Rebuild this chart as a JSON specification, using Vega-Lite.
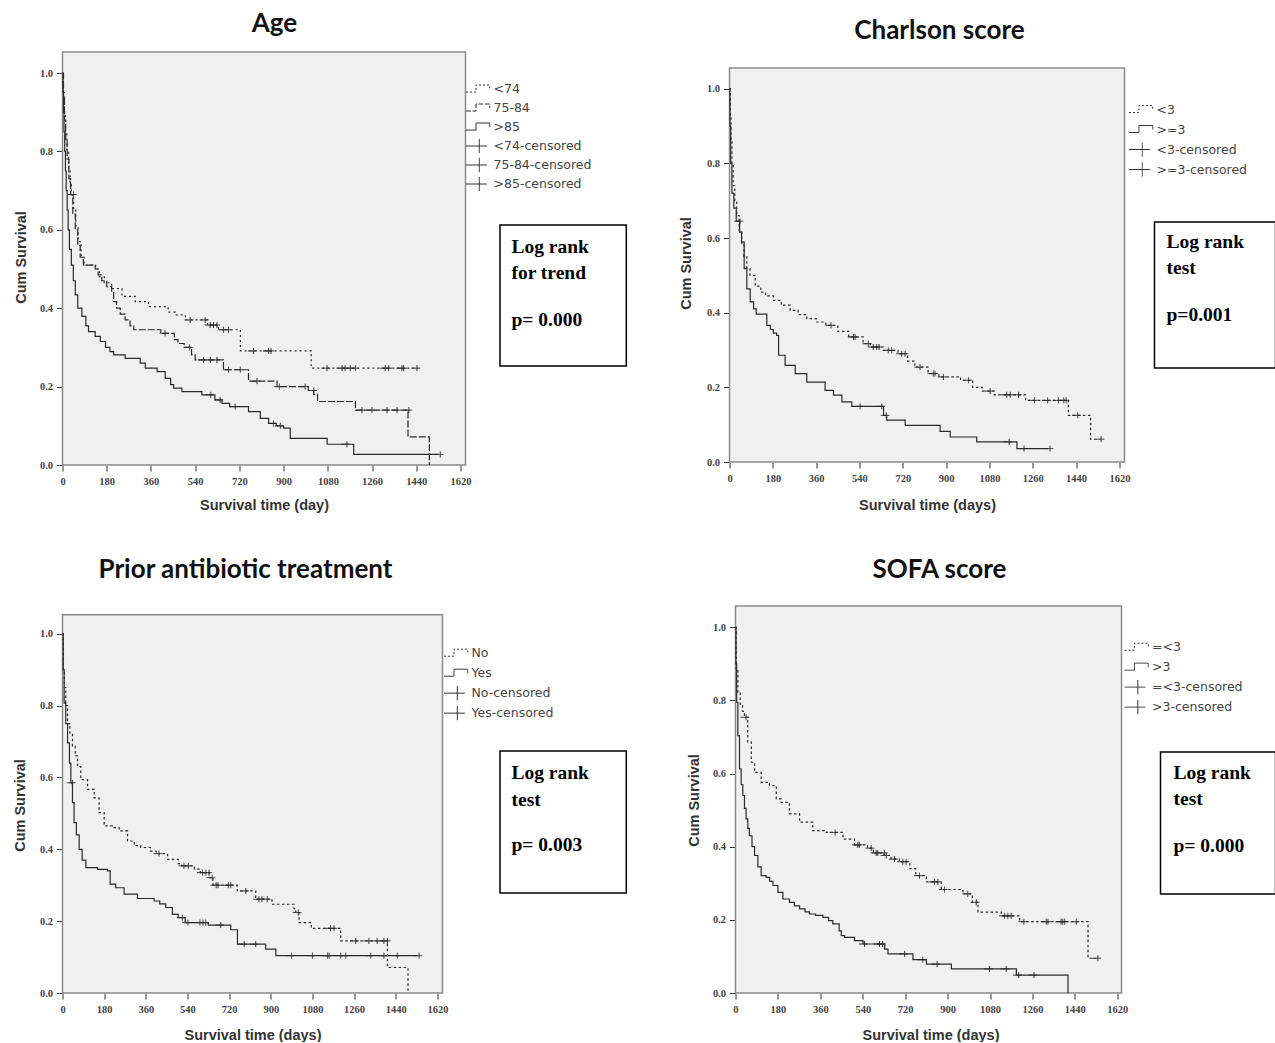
{
"$schema": "https://vega.github.io/schema/vega-lite/v6.json",
"background": "white",
"padding": {"left": 11.5, "top": 11, "right": 0, "bottom": 0},
"autosize": {"type": "pad"},
"config": {
  "view": {"stroke": null},
  "axis": {"grid": false, "domain": false, "tickColor": "#333", "tickWidth": 1, "labelFont": "Liberation Serif", "labelFontSize": 10.5, "labelFontWeight": "bold", "labelColor": "#444", "titleFont": "Liberation Sans", "titleFontSize": 14.5, "titleFontWeight": "bold", "titleColor": "#333", "labelOverlap": false, "labelFlush": false},
  "title": {"font": "Lato", "fontSize": 26, "fontWeight": "bold", "color": "#111", "anchor": "middle", "frame": "group"},
  "legend": {"labelFont": "DejaVu Sans", "labelFontSize": 12.5, "labelColor": "#444", "symbolSize": 361, "labelOffset": 8, "padding": 0, "title": null, "orient": "none", "symbolStrokeColor": "#333", "symbolFillColor": "transparent", "symbolStrokeWidth": 1}
},
"datasets": {
"tests": [
 {"panel": "Age", "test": "Log rank\nfor trend", "p": "p= 0.000"},
 {"panel": "Charlson", "test": "Log rank\ntest", "p": "p=0.001"},
 {"panel": "Prior", "test": "Log rank\ntest", "p": "p= 0.003"},
 {"panel": "SOFA", "test": "Log rank\ntest", "p": "p= 0.000"}
],
"km": [
 {"panel":"Age","group":"<74","t":0,"s":1},{"panel":"Age","group":"<74","t":3,"s":0.95},{"panel":"Age","group":"<74","t":7,"s":0.9},{"panel":"Age","group":"<74","t":12,"s":0.85},{"panel":"Age","group":"<74","t":18,"s":0.8},{"panel":"Age","group":"<74","t":25,"s":0.75},{"panel":"Age","group":"<74","t":31,"s":0.72},{"panel":"Age","group":"<74","t":36,"s":0.69},{"panel":"Age","group":"<74","t":45,"s":0.65},{"panel":"Age","group":"<74","t":54,"s":0.61},{"panel":"Age","group":"<74","t":64,"s":0.57},{"panel":"Age","group":"<74","t":76,"s":0.53},{"panel":"Age","group":"<74","t":88,"s":0.51},{"panel":"Age","group":"<74","t":135,"s":0.5},{"panel":"Age","group":"<74","t":150,"s":0.48},{"panel":"Age","group":"<74","t":170,"s":0.465},{"panel":"Age","group":"<74","t":200,"s":0.45},{"panel":"Age","group":"<74","t":242,"s":0.43},{"panel":"Age","group":"<74","t":296,"s":0.417},{"panel":"Age","group":"<74","t":350,"s":0.404},{"panel":"Age","group":"<74","t":430,"s":0.39},{"panel":"Age","group":"<74","t":459,"s":0.383},{"panel":"Age","group":"<74","t":500,"s":0.37},{"panel":"Age","group":"<74","t":590,"s":0.357},{"panel":"Age","group":"<74","t":635,"s":0.345},{"panel":"Age","group":"<74","t":724,"s":0.291},{"panel":"Age","group":"<74","t":1012,"s":0.247},{"panel":"Age","group":"<74","t":1436,"s":0.247},
 {"panel":"Age","group":"75-84","t":0,"s":1},{"panel":"Age","group":"75-84","t":4,"s":0.94},{"panel":"Age","group":"75-84","t":8,"s":0.88},{"panel":"Age","group":"75-84","t":13,"s":0.83},{"panel":"Age","group":"75-84","t":19,"s":0.78},{"panel":"Age","group":"75-84","t":26,"s":0.73},{"panel":"Age","group":"75-84","t":33,"s":0.69},{"panel":"Age","group":"75-84","t":42,"s":0.64},{"panel":"Age","group":"75-84","t":52,"s":0.6},{"panel":"Age","group":"75-84","t":62,"s":0.56},{"panel":"Age","group":"75-84","t":72,"s":0.53},{"panel":"Age","group":"75-84","t":85,"s":0.51},{"panel":"Age","group":"75-84","t":133,"s":0.5},{"panel":"Age","group":"75-84","t":145,"s":0.485},{"panel":"Age","group":"75-84","t":160,"s":0.47},{"panel":"Age","group":"75-84","t":180,"s":0.455},{"panel":"Age","group":"75-84","t":200,"s":0.44},{"panel":"Age","group":"75-84","t":208,"s":0.417},{"panel":"Age","group":"75-84","t":220,"s":0.4},{"panel":"Age","group":"75-84","t":235,"s":0.385},{"panel":"Age","group":"75-84","t":255,"s":0.37},{"panel":"Age","group":"75-84","t":275,"s":0.355},{"panel":"Age","group":"75-84","t":290,"s":0.345},{"panel":"Age","group":"75-84","t":400,"s":0.336},{"panel":"Age","group":"75-84","t":455,"s":0.32},{"panel":"Age","group":"75-84","t":470,"s":0.31},{"panel":"Age","group":"75-84","t":495,"s":0.3},{"panel":"Age","group":"75-84","t":525,"s":0.281},{"panel":"Age","group":"75-84","t":540,"s":0.268},{"panel":"Age","group":"75-84","t":655,"s":0.243},{"panel":"Age","group":"75-84","t":757,"s":0.214},{"panel":"Age","group":"75-84","t":873,"s":0.2},{"panel":"Age","group":"75-84","t":1000,"s":0.19},{"panel":"Age","group":"75-84","t":1022,"s":0.18},{"panel":"Age","group":"75-84","t":1038,"s":0.162},{"panel":"Age","group":"75-84","t":1192,"s":0.14},{"panel":"Age","group":"75-84","t":1406,"s":0.072},{"panel":"Age","group":"75-84","t":1493,"s":0},
 {"panel":"Age","group":">85","t":0,"s":1},{"panel":"Age","group":">85","t":2,"s":0.95},{"panel":"Age","group":">85","t":4,"s":0.9},{"panel":"Age","group":">85","t":6,"s":0.85},{"panel":"Age","group":">85","t":9,"s":0.8},{"panel":"Age","group":">85","t":12,"s":0.75},{"panel":"Age","group":">85","t":15,"s":0.7},{"panel":"Age","group":">85","t":19,"s":0.65},{"panel":"Age","group":">85","t":23,"s":0.6},{"panel":"Age","group":">85","t":28,"s":0.55},{"panel":"Age","group":">85","t":36,"s":0.51},{"panel":"Age","group":">85","t":44,"s":0.47},{"panel":"Age","group":">85","t":52,"s":0.434},{"panel":"Age","group":">85","t":62,"s":0.4},{"panel":"Age","group":">85","t":79,"s":0.379},{"panel":"Age","group":">85","t":95,"s":0.355},{"panel":"Age","group":">85","t":106,"s":0.34},{"panel":"Age","group":">85","t":133,"s":0.328},{"panel":"Age","group":">85","t":154,"s":0.315},{"panel":"Age","group":">85","t":175,"s":0.3},{"panel":"Age","group":">85","t":193,"s":0.289},{"panel":"Age","group":">85","t":208,"s":0.281},{"panel":"Age","group":">85","t":255,"s":0.272},{"panel":"Age","group":">85","t":316,"s":0.26},{"panel":"Age","group":">85","t":337,"s":0.247},{"panel":"Age","group":">85","t":385,"s":0.238},{"panel":"Age","group":">85","t":418,"s":0.221},{"panel":"Age","group":">85","t":440,"s":0.205},{"panel":"Age","group":">85","t":452,"s":0.196},{"panel":"Age","group":">85","t":486,"s":0.187},{"panel":"Age","group":">85","t":567,"s":0.179},{"panel":"Age","group":">85","t":620,"s":0.166},{"panel":"Age","group":">85","t":649,"s":0.157},{"panel":"Age","group":">85","t":680,"s":0.149},{"panel":"Age","group":">85","t":757,"s":0.136},{"panel":"Age","group":">85","t":805,"s":0.119},{"panel":"Age","group":">85","t":839,"s":0.106},{"panel":"Age","group":">85","t":870,"s":0.1},{"panel":"Age","group":">85","t":900,"s":0.094},{"panel":"Age","group":">85","t":927,"s":0.068},{"panel":"Age","group":">85","t":1077,"s":0.053},{"panel":"Age","group":">85","t":1185,"s":0.027},{"panel":"Age","group":">85","t":1531,"s":0.027},
 {"panel":"Charlson","group":"<3","t":0,"s":1},{"panel":"Charlson","group":"<3","t":3,"s":0.93},{"panel":"Charlson","group":"<3","t":6,"s":0.86},{"panel":"Charlson","group":"<3","t":10,"s":0.8},{"panel":"Charlson","group":"<3","t":15,"s":0.74},{"panel":"Charlson","group":"<3","t":22,"s":0.7},{"panel":"Charlson","group":"<3","t":30,"s":0.66},{"panel":"Charlson","group":"<3","t":40,"s":0.62},{"panel":"Charlson","group":"<3","t":51,"s":0.585},{"panel":"Charlson","group":"<3","t":60,"s":0.55},{"panel":"Charlson","group":"<3","t":72,"s":0.518},{"panel":"Charlson","group":"<3","t":85,"s":0.5},{"panel":"Charlson","group":"<3","t":107,"s":0.471},{"panel":"Charlson","group":"<3","t":130,"s":0.455},{"panel":"Charlson","group":"<3","t":150,"s":0.445},{"panel":"Charlson","group":"<3","t":183,"s":0.433},{"panel":"Charlson","group":"<3","t":215,"s":0.42},{"panel":"Charlson","group":"<3","t":252,"s":0.406},{"panel":"Charlson","group":"<3","t":285,"s":0.395},{"panel":"Charlson","group":"<3","t":321,"s":0.384},{"panel":"Charlson","group":"<3","t":360,"s":0.375},{"panel":"Charlson","group":"<3","t":400,"s":0.366},{"panel":"Charlson","group":"<3","t":450,"s":0.35},{"panel":"Charlson","group":"<3","t":495,"s":0.335},{"panel":"Charlson","group":"<3","t":555,"s":0.317},{"panel":"Charlson","group":"<3","t":585,"s":0.308},{"panel":"Charlson","group":"<3","t":640,"s":0.299},{"panel":"Charlson","group":"<3","t":700,"s":0.29},{"panel":"Charlson","group":"<3","t":740,"s":0.27},{"panel":"Charlson","group":"<3","t":770,"s":0.254},{"panel":"Charlson","group":"<3","t":825,"s":0.237},{"panel":"Charlson","group":"<3","t":870,"s":0.228},{"panel":"Charlson","group":"<3","t":960,"s":0.219},{"panel":"Charlson","group":"<3","t":1010,"s":0.2},{"panel":"Charlson","group":"<3","t":1050,"s":0.19},{"panel":"Charlson","group":"<3","t":1100,"s":0.18},{"panel":"Charlson","group":"<3","t":1230,"s":0.165},{"panel":"Charlson","group":"<3","t":1408,"s":0.125},{"panel":"Charlson","group":"<3","t":1500,"s":0.061},{"panel":"Charlson","group":"<3","t":1537,"s":0.061},
 {"panel":"Charlson","group":">=3","t":0,"s":1},{"panel":"Charlson","group":">=3","t":2,"s":0.9},{"panel":"Charlson","group":">=3","t":5,"s":0.8},{"panel":"Charlson","group":">=3","t":10,"s":0.72},{"panel":"Charlson","group":">=3","t":18,"s":0.68},{"panel":"Charlson","group":">=3","t":28,"s":0.645},{"panel":"Charlson","group":">=3","t":42,"s":0.616},{"panel":"Charlson","group":">=3","t":50,"s":0.589},{"panel":"Charlson","group":">=3","t":61,"s":0.518},{"panel":"Charlson","group":">=3","t":72,"s":0.464},{"panel":"Charlson","group":">=3","t":86,"s":0.429},{"panel":"Charlson","group":">=3","t":100,"s":0.41},{"panel":"Charlson","group":">=3","t":111,"s":0.396},{"panel":"Charlson","group":">=3","t":155,"s":0.366},{"panel":"Charlson","group":">=3","t":170,"s":0.355},{"panel":"Charlson","group":">=3","t":182,"s":0.345},{"panel":"Charlson","group":">=3","t":196,"s":0.339},{"panel":"Charlson","group":">=3","t":204,"s":0.286},{"panel":"Charlson","group":">=3","t":231,"s":0.259},{"panel":"Charlson","group":">=3","t":273,"s":0.237},{"panel":"Charlson","group":">=3","t":321,"s":0.214},{"panel":"Charlson","group":">=3","t":397,"s":0.192},{"panel":"Charlson","group":">=3","t":432,"s":0.179},{"panel":"Charlson","group":">=3","t":467,"s":0.161},{"panel":"Charlson","group":">=3","t":508,"s":0.149},{"panel":"Charlson","group":">=3","t":640,"s":0.125},{"panel":"Charlson","group":">=3","t":653,"s":0.112},{"panel":"Charlson","group":">=3","t":730,"s":0.098},{"panel":"Charlson","group":">=3","t":875,"s":0.082},{"panel":"Charlson","group":">=3","t":917,"s":0.067},{"panel":"Charlson","group":">=3","t":1027,"s":0.054},{"panel":"Charlson","group":">=3","t":1194,"s":0.036},{"panel":"Charlson","group":">=3","t":1325,"s":0.036},
 {"panel":"Prior","group":"No","t":0,"s":1},{"panel":"Prior","group":"No","t":4,"s":0.9},{"panel":"Prior","group":"No","t":8,"s":0.85},{"panel":"Prior","group":"No","t":14,"s":0.8},{"panel":"Prior","group":"No","t":22,"s":0.75},{"panel":"Prior","group":"No","t":32,"s":0.72},{"panel":"Prior","group":"No","t":43,"s":0.687},{"panel":"Prior","group":"No","t":55,"s":0.66},{"panel":"Prior","group":"No","t":65,"s":0.63},{"panel":"Prior","group":"No","t":79,"s":0.594},{"panel":"Prior","group":"No","t":108,"s":0.567},{"panel":"Prior","group":"No","t":137,"s":0.543},{"panel":"Prior","group":"No","t":158,"s":0.502},{"panel":"Prior","group":"No","t":180,"s":0.465},{"panel":"Prior","group":"No","t":215,"s":0.46},{"panel":"Prior","group":"No","t":245,"s":0.451},{"panel":"Prior","group":"No","t":281,"s":0.423},{"panel":"Prior","group":"No","t":310,"s":0.41},{"panel":"Prior","group":"No","t":338,"s":0.405},{"panel":"Prior","group":"No","t":380,"s":0.395},{"panel":"Prior","group":"No","t":405,"s":0.388},{"panel":"Prior","group":"No","t":454,"s":0.372},{"panel":"Prior","group":"No","t":500,"s":0.36},{"panel":"Prior","group":"No","t":515,"s":0.354},{"panel":"Prior","group":"No","t":570,"s":0.345},{"panel":"Prior","group":"No","t":595,"s":0.335},{"panel":"Prior","group":"No","t":635,"s":0.321},{"panel":"Prior","group":"No","t":650,"s":0.3},{"panel":"Prior","group":"No","t":755,"s":0.284},{"panel":"Prior","group":"No","t":835,"s":0.261},{"panel":"Prior","group":"No","t":905,"s":0.247},{"panel":"Prior","group":"No","t":1000,"s":0.235},{"panel":"Prior","group":"No","t":1008,"s":0.224},{"panel":"Prior","group":"No","t":1022,"s":0.196},{"panel":"Prior","group":"No","t":1075,"s":0.18},{"panel":"Prior","group":"No","t":1202,"s":0.145},{"panel":"Prior","group":"No","t":1404,"s":0.071},{"panel":"Prior","group":"No","t":1493,"s":0},
 {"panel":"Prior","group":"Yes","t":0,"s":1},{"panel":"Prior","group":"Yes","t":3,"s":0.9},{"panel":"Prior","group":"Yes","t":7,"s":0.807},{"panel":"Prior","group":"Yes","t":14,"s":0.75},{"panel":"Prior","group":"Yes","t":22,"s":0.696},{"panel":"Prior","group":"Yes","t":30,"s":0.64},{"panel":"Prior","group":"Yes","t":36,"s":0.585},{"panel":"Prior","group":"Yes","t":43,"s":0.53},{"panel":"Prior","group":"Yes","t":50,"s":0.474},{"panel":"Prior","group":"Yes","t":60,"s":0.44},{"panel":"Prior","group":"Yes","t":72,"s":0.4},{"panel":"Prior","group":"Yes","t":85,"s":0.37},{"panel":"Prior","group":"Yes","t":101,"s":0.349},{"panel":"Prior","group":"Yes","t":151,"s":0.344},{"panel":"Prior","group":"Yes","t":194,"s":0.34},{"panel":"Prior","group":"Yes","t":206,"s":0.303},{"panel":"Prior","group":"Yes","t":230,"s":0.293},{"panel":"Prior","group":"Yes","t":266,"s":0.275},{"panel":"Prior","group":"Yes","t":324,"s":0.263},{"panel":"Prior","group":"Yes","t":396,"s":0.256},{"panel":"Prior","group":"Yes","t":420,"s":0.248},{"panel":"Prior","group":"Yes","t":446,"s":0.238},{"panel":"Prior","group":"Yes","t":475,"s":0.219},{"panel":"Prior","group":"Yes","t":500,"s":0.21},{"panel":"Prior","group":"Yes","t":530,"s":0.196},{"panel":"Prior","group":"Yes","t":630,"s":0.189},{"panel":"Prior","group":"Yes","t":727,"s":0.176},{"panel":"Prior","group":"Yes","t":756,"s":0.136},{"panel":"Prior","group":"Yes","t":878,"s":0.122},{"panel":"Prior","group":"Yes","t":922,"s":0.104},{"panel":"Prior","group":"Yes","t":1534,"s":0.104},
 {"panel":"SOFA","group":"=<3","t":0,"s":1},{"panel":"SOFA","group":"=<3","t":3,"s":0.886},{"panel":"SOFA","group":"=<3","t":10,"s":0.822},{"panel":"SOFA","group":"=<3","t":20,"s":0.79},{"panel":"SOFA","group":"=<3","t":30,"s":0.77},{"panel":"SOFA","group":"=<3","t":38,"s":0.754},{"panel":"SOFA","group":"=<3","t":52,"s":0.686},{"panel":"SOFA","group":"=<3","t":67,"s":0.631},{"panel":"SOFA","group":"=<3","t":81,"s":0.603},{"panel":"SOFA","group":"=<3","t":109,"s":0.576},{"panel":"SOFA","group":"=<3","t":144,"s":0.567},{"panel":"SOFA","group":"=<3","t":173,"s":0.531},{"panel":"SOFA","group":"=<3","t":194,"s":0.521},{"panel":"SOFA","group":"=<3","t":229,"s":0.49},{"panel":"SOFA","group":"=<3","t":272,"s":0.467},{"panel":"SOFA","group":"=<3","t":328,"s":0.444},{"panel":"SOFA","group":"=<3","t":385,"s":0.439},{"panel":"SOFA","group":"=<3","t":456,"s":0.421},{"panel":"SOFA","group":"=<3","t":505,"s":0.405},{"panel":"SOFA","group":"=<3","t":560,"s":0.396},{"panel":"SOFA","group":"=<3","t":585,"s":0.383},{"panel":"SOFA","group":"=<3","t":630,"s":0.376},{"panel":"SOFA","group":"=<3","t":660,"s":0.366},{"panel":"SOFA","group":"=<3","t":695,"s":0.359},{"panel":"SOFA","group":"=<3","t":740,"s":0.34},{"panel":"SOFA","group":"=<3","t":765,"s":0.321},{"panel":"SOFA","group":"=<3","t":810,"s":0.304},{"panel":"SOFA","group":"=<3","t":873,"s":0.283},{"panel":"SOFA","group":"=<3","t":965,"s":0.271},{"panel":"SOFA","group":"=<3","t":1005,"s":0.248},{"panel":"SOFA","group":"=<3","t":1029,"s":0.221},{"panel":"SOFA","group":"=<3","t":1128,"s":0.211},{"panel":"SOFA","group":"=<3","t":1206,"s":0.195},{"panel":"SOFA","group":"=<3","t":1496,"s":0.095},{"panel":"SOFA","group":"=<3","t":1531,"s":0.095},
 {"panel":"SOFA","group":">3","t":0,"s":1},{"panel":"SOFA","group":">3","t":2,"s":0.9},{"panel":"SOFA","group":">3","t":5,"s":0.795},{"panel":"SOFA","group":">3","t":10,"s":0.704},{"panel":"SOFA","group":">3","t":17,"s":0.613},{"panel":"SOFA","group":">3","t":24,"s":0.57},{"panel":"SOFA","group":">3","t":31,"s":0.54},{"panel":"SOFA","group":">3","t":38,"s":0.505},{"panel":"SOFA","group":">3","t":45,"s":0.476},{"panel":"SOFA","group":">3","t":52,"s":0.45},{"panel":"SOFA","group":">3","t":59,"s":0.43},{"panel":"SOFA","group":">3","t":70,"s":0.4},{"panel":"SOFA","group":">3","t":81,"s":0.376},{"panel":"SOFA","group":">3","t":95,"s":0.345},{"panel":"SOFA","group":">3","t":109,"s":0.321},{"panel":"SOFA","group":">3","t":130,"s":0.316},{"panel":"SOFA","group":">3","t":145,"s":0.305},{"panel":"SOFA","group":">3","t":159,"s":0.294},{"panel":"SOFA","group":">3","t":180,"s":0.275},{"panel":"SOFA","group":">3","t":201,"s":0.257},{"panel":"SOFA","group":">3","t":229,"s":0.248},{"panel":"SOFA","group":">3","t":250,"s":0.238},{"panel":"SOFA","group":">3","t":272,"s":0.23},{"panel":"SOFA","group":">3","t":295,"s":0.222},{"panel":"SOFA","group":">3","t":314,"s":0.216},{"panel":"SOFA","group":">3","t":340,"s":0.212},{"panel":"SOFA","group":">3","t":371,"s":0.207},{"panel":"SOFA","group":">3","t":395,"s":0.198},{"panel":"SOFA","group":">3","t":413,"s":0.189},{"panel":"SOFA","group":">3","t":440,"s":0.17},{"panel":"SOFA","group":">3","t":449,"s":0.157},{"panel":"SOFA","group":">3","t":463,"s":0.152},{"panel":"SOFA","group":">3","t":505,"s":0.143},{"panel":"SOFA","group":">3","t":541,"s":0.134},{"panel":"SOFA","group":">3","t":633,"s":0.12},{"panel":"SOFA","group":">3","t":647,"s":0.107},{"panel":"SOFA","group":">3","t":753,"s":0.091},{"panel":"SOFA","group":">3","t":810,"s":0.079},{"panel":"SOFA","group":">3","t":916,"s":0.066},{"panel":"SOFA","group":">3","t":1192,"s":0.049},{"panel":"SOFA","group":">3","t":1411,"s":0}
],
"cens": [
 {"panel":"Age","key":"<74-censored","t":38,"s":0.69},{"panel":"Age","key":"<74-censored","t":513,"s":0.37},{"panel":"Age","key":"<74-censored","t":574,"s":0.37},{"panel":"Age","key":"<74-censored","t":595,"s":0.357},{"panel":"Age","key":"<74-censored","t":608,"s":0.357},{"panel":"Age","key":"<74-censored","t":622,"s":0.357},{"panel":"Age","key":"<74-censored","t":649,"s":0.345},{"panel":"Age","key":"<74-censored","t":669,"s":0.345},{"panel":"Age","key":"<74-censored","t":771,"s":0.291},{"panel":"Age","key":"<74-censored","t":832,"s":0.291},{"panel":"Age","key":"<74-censored","t":842,"s":0.291},{"panel":"Age","key":"<74-censored","t":1070,"s":0.247},{"panel":"Age","key":"<74-censored","t":1131,"s":0.247},{"panel":"Age","key":"<74-censored","t":1144,"s":0.247},{"panel":"Age","key":"<74-censored","t":1165,"s":0.247},{"panel":"Age","key":"<74-censored","t":1185,"s":0.247},{"panel":"Age","key":"<74-censored","t":1307,"s":0.247},{"panel":"Age","key":"<74-censored","t":1321,"s":0.247},{"panel":"Age","key":"<74-censored","t":1375,"s":0.247},{"panel":"Age","key":"<74-censored","t":1382,"s":0.247},{"panel":"Age","key":"<74-censored","t":1436,"s":0.247},
 {"panel":"Age","key":"75-84-censored","t":411,"s":0.336},{"panel":"Age","key":"75-84-censored","t":510,"s":0.3},{"panel":"Age","key":"75-84-censored","t":567,"s":0.268},{"panel":"Age","key":"75-84-censored","t":595,"s":0.268},{"panel":"Age","key":"75-84-censored","t":622,"s":0.268},{"panel":"Age","key":"75-84-censored","t":669,"s":0.243},{"panel":"Age","key":"75-84-censored","t":717,"s":0.243},{"panel":"Age","key":"75-84-censored","t":785,"s":0.214},{"panel":"Age","key":"75-84-censored","t":876,"s":0.2},{"panel":"Age","key":"75-84-censored","t":981,"s":0.2},{"panel":"Age","key":"75-84-censored","t":1016,"s":0.19},{"panel":"Age","key":"75-84-censored","t":1212,"s":0.14},{"panel":"Age","key":"75-84-censored","t":1253,"s":0.14},{"panel":"Age","key":"75-84-censored","t":1314,"s":0.14},{"panel":"Age","key":"75-84-censored","t":1355,"s":0.14},{"panel":"Age","key":"75-84-censored","t":1403,"s":0.14},
 {"panel":"Age","key":">85-censored","t":597,"s":0.179},{"panel":"Age","key":">85-censored","t":635,"s":0.166},{"panel":"Age","key":">85-censored","t":696,"s":0.149},{"panel":"Age","key":">85-censored","t":852,"s":0.106},{"panel":"Age","key":">85-censored","t":880,"s":0.1},{"panel":"Age","key":">85-censored","t":1151,"s":0.053},{"panel":"Age","key":">85-censored","t":1531,"s":0.027},
 {"panel":"Charlson","key":"<3-censored","t":415,"s":0.366},{"panel":"Charlson","key":"<3-censored","t":508,"s":0.335},{"panel":"Charlson","key":"<3-censored","t":515,"s":0.335},{"panel":"Charlson","key":"<3-censored","t":570,"s":0.317},{"panel":"Charlson","key":"<3-censored","t":591,"s":0.308},{"panel":"Charlson","key":"<3-censored","t":605,"s":0.308},{"panel":"Charlson","key":"<3-censored","t":615,"s":0.308},{"panel":"Charlson","key":"<3-censored","t":653,"s":0.299},{"panel":"Charlson","key":"<3-censored","t":667,"s":0.299},{"panel":"Charlson","key":"<3-censored","t":709,"s":0.29},{"panel":"Charlson","key":"<3-censored","t":723,"s":0.29},{"panel":"Charlson","key":"<3-censored","t":785,"s":0.254},{"panel":"Charlson","key":"<3-censored","t":840,"s":0.237},{"panel":"Charlson","key":"<3-censored","t":847,"s":0.237},{"panel":"Charlson","key":"<3-censored","t":882,"s":0.228},{"panel":"Charlson","key":"<3-censored","t":986,"s":0.219},{"panel":"Charlson","key":"<3-censored","t":1076,"s":0.19},{"panel":"Charlson","key":"<3-censored","t":1145,"s":0.18},{"panel":"Charlson","key":"<3-censored","t":1160,"s":0.18},{"panel":"Charlson","key":"<3-censored","t":1194,"s":0.18},{"panel":"Charlson","key":"<3-censored","t":1260,"s":0.165},{"panel":"Charlson","key":"<3-censored","t":1315,"s":0.165},{"panel":"Charlson","key":"<3-censored","t":1360,"s":0.165},{"panel":"Charlson","key":"<3-censored","t":1382,"s":0.165},{"panel":"Charlson","key":"<3-censored","t":1392,"s":0.165},{"panel":"Charlson","key":"<3-censored","t":1440,"s":0.125},{"panel":"Charlson","key":"<3-censored","t":1537,"s":0.061},
 {"panel":"Charlson","key":">=3-censored","t":37,"s":0.645},{"panel":"Charlson","key":">=3-censored","t":536,"s":0.149},{"panel":"Charlson","key":">=3-censored","t":626,"s":0.149},{"panel":"Charlson","key":">=3-censored","t":645,"s":0.125},{"panel":"Charlson","key":">=3-censored","t":1155,"s":0.054},{"panel":"Charlson","key":">=3-censored","t":1217,"s":0.036},{"panel":"Charlson","key":">=3-censored","t":1325,"s":0.036},
 {"panel":"Prior","key":"No-censored","t":410,"s":0.388},{"panel":"Prior","key":"No-censored","t":518,"s":0.354},{"panel":"Prior","key":"No-censored","t":537,"s":0.354},{"panel":"Prior","key":"No-censored","t":598,"s":0.335},{"panel":"Prior","key":"No-censored","t":612,"s":0.335},{"panel":"Prior","key":"No-censored","t":626,"s":0.335},{"panel":"Prior","key":"No-censored","t":640,"s":0.321},{"panel":"Prior","key":"No-censored","t":657,"s":0.3},{"panel":"Prior","key":"No-censored","t":665,"s":0.3},{"panel":"Prior","key":"No-censored","t":710,"s":0.3},{"panel":"Prior","key":"No-censored","t":720,"s":0.3},{"panel":"Prior","key":"No-censored","t":785,"s":0.284},{"panel":"Prior","key":"No-censored","t":842,"s":0.261},{"panel":"Prior","key":"No-censored","t":855,"s":0.261},{"panel":"Prior","key":"No-censored","t":878,"s":0.261},{"panel":"Prior","key":"No-censored","t":1012,"s":0.224},{"panel":"Prior","key":"No-censored","t":1151,"s":0.18},{"panel":"Prior","key":"No-censored","t":1166,"s":0.18},{"panel":"Prior","key":"No-censored","t":1260,"s":0.145},{"panel":"Prior","key":"No-censored","t":1317,"s":0.145},{"panel":"Prior","key":"No-censored","t":1353,"s":0.145},{"panel":"Prior","key":"No-censored","t":1382,"s":0.145},{"panel":"Prior","key":"No-censored","t":1397,"s":0.145},
 {"panel":"Prior","key":"Yes-censored","t":36,"s":0.585},{"panel":"Prior","key":"Yes-censored","t":511,"s":0.21},{"panel":"Prior","key":"Yes-censored","t":535,"s":0.196},{"panel":"Prior","key":"Yes-censored","t":587,"s":0.196},{"panel":"Prior","key":"Yes-censored","t":600,"s":0.196},{"panel":"Prior","key":"Yes-censored","t":612,"s":0.196},{"panel":"Prior","key":"Yes-censored","t":677,"s":0.189},{"panel":"Prior","key":"Yes-censored","t":778,"s":0.136},{"panel":"Prior","key":"Yes-censored","t":828,"s":0.136},{"panel":"Prior","key":"Yes-censored","t":983,"s":0.104},{"panel":"Prior","key":"Yes-censored","t":1073,"s":0.104},{"panel":"Prior","key":"Yes-censored","t":1138,"s":0.104},{"panel":"Prior","key":"Yes-censored","t":1145,"s":0.104},{"panel":"Prior","key":"Yes-censored","t":1195,"s":0.104},{"panel":"Prior","key":"Yes-censored","t":1217,"s":0.104},{"panel":"Prior","key":"Yes-censored","t":1325,"s":0.104},{"panel":"Prior","key":"Yes-censored","t":1382,"s":0.104},{"panel":"Prior","key":"Yes-censored","t":1440,"s":0.104},{"panel":"Prior","key":"Yes-censored","t":1534,"s":0.104},
 {"panel":"SOFA","key":"=<3-censored","t":38,"s":0.754},{"panel":"SOFA","key":"=<3-censored","t":416,"s":0.439},{"panel":"SOFA","key":"=<3-censored","t":512,"s":0.405},{"panel":"SOFA","key":"=<3-censored","t":519,"s":0.405},{"panel":"SOFA","key":"=<3-censored","t":569,"s":0.396},{"panel":"SOFA","key":"=<3-censored","t":590,"s":0.383},{"panel":"SOFA","key":"=<3-censored","t":597,"s":0.383},{"panel":"SOFA","key":"=<3-censored","t":625,"s":0.383},{"panel":"SOFA","key":"=<3-censored","t":633,"s":0.376},{"panel":"SOFA","key":"=<3-censored","t":668,"s":0.366},{"panel":"SOFA","key":"=<3-censored","t":703,"s":0.359},{"panel":"SOFA","key":"=<3-censored","t":717,"s":0.359},{"panel":"SOFA","key":"=<3-censored","t":774,"s":0.321},{"panel":"SOFA","key":"=<3-censored","t":838,"s":0.304},{"panel":"SOFA","key":"=<3-censored","t":852,"s":0.304},{"panel":"SOFA","key":"=<3-censored","t":880,"s":0.283},{"panel":"SOFA","key":"=<3-censored","t":979,"s":0.271},{"panel":"SOFA","key":"=<3-censored","t":1015,"s":0.248},{"panel":"SOFA","key":"=<3-censored","t":1135,"s":0.211},{"panel":"SOFA","key":"=<3-censored","t":1149,"s":0.211},{"panel":"SOFA","key":"=<3-censored","t":1163,"s":0.211},{"panel":"SOFA","key":"=<3-censored","t":1217,"s":0.195},{"panel":"SOFA","key":"=<3-censored","t":1312,"s":0.195},{"panel":"SOFA","key":"=<3-censored","t":1319,"s":0.195},{"panel":"SOFA","key":"=<3-censored","t":1375,"s":0.195},{"panel":"SOFA","key":"=<3-censored","t":1382,"s":0.195},{"panel":"SOFA","key":"=<3-censored","t":1390,"s":0.195},{"panel":"SOFA","key":"=<3-censored","t":1439,"s":0.195},{"panel":"SOFA","key":"=<3-censored","t":1531,"s":0.095},
 {"panel":"SOFA","key":">3-censored","t":541,"s":0.134},{"panel":"SOFA","key":">3-censored","t":604,"s":0.134},{"panel":"SOFA","key":">3-censored","t":618,"s":0.134},{"panel":"SOFA","key":">3-censored","t":711,"s":0.107},{"panel":"SOFA","key":">3-censored","t":788,"s":0.091},{"panel":"SOFA","key":">3-censored","t":849,"s":0.079},{"panel":"SOFA","key":">3-censored","t":1071,"s":0.066},{"panel":"SOFA","key":">3-censored","t":1142,"s":0.066},{"panel":"SOFA","key":">3-censored","t":1195,"s":0.049},{"panel":"SOFA","key":">3-censored","t":1260,"s":0.049}
]
},
"columns": 2,
"bounds": "flush",
"spacing": {"row": 141, "column": 264},
"resolve": {"scale": {"x": "independent", "y": "independent", "shape": "independent", "strokeDash": "independent"}, "legend": {"shape": "independent", "strokeDash": "independent"}, "axis": {"x": "independent", "y": "independent"}},
"concat": [
 {"width": 403, "height": 413,
  "title": {"text": "Age", "dx": 10.5, "offset": 14},
  "resolve": {"scale": {"strokeDash": "independent", "shape": "independent"}},
  "layer": [
   {"data": {"name": "tests"}, "transform": [{"filter": "datum.panel == 'Age'"}],
    "mark": {"type": "rect", "fill": "#f0f0f0", "stroke": "#8a8a8a", "strokeWidth": 1.5},
    "encoding": {
     "x": {"datum": 0, "type": "quantitative", "scale": {"domain": [0, 1640], "nice": false}},
     "x2": {"datum": 1640},
     "y": {"datum": 0, "type": "quantitative", "scale": {"domain": [0, 1.0536], "nice": false}},
     "y2": {"datum": 1.0536}}},
   {"data": {"name": "km"}, "transform": [{"filter": "datum.panel == 'Age'"}],
    "mark": {"type": "line", "interpolate": "step-after", "stroke": "#2a2a2a", "strokeWidth": 1.2},
    "encoding": {
     "x": {"field": "t", "type": "quantitative", "scale": {"domain": [0, 1640], "nice": false}, "axis": {"values": [0,90,180,270,360,450,540,630,720,810,900,990,1080,1170,1260,1350,1440,1530,1620], "format": "d", "labelExpr": "datum.value % 180 == 0 ? datum.label : ''", "tickSize": 6, "labelPadding": 5, "title": "Survival time (day)", "titleY": 40, "titleBaseline": "middle"}},
     "y": {"field": "s", "type": "quantitative", "scale": {"domain": [0, 1.0536], "nice": false}, "axis": {"values": [0,0.2,0.4,0.6,0.8,1], "format": ".1f", "tickSize": 6, "labelPadding": 4, "title": "Cum Survival", "titleX": -41.3, "titleY": 205, "titleBaseline": "middle"}},
     "strokeDash": {"field": "group", "type": "nominal", "scale": {"domain": ["<74","75-84",">85"], "range": [[2,3],[7,2],[1,0]]}, "legend": null}}},
   {"data": {"name": "cens"}, "transform": [{"filter": "datum.panel == 'Age'"}],
    "mark": {"type": "point", "filled": false, "stroke": "#2a2a2a", "strokeWidth": 1, "size": 64, "opacity": 1},
    "encoding": {
     "x": {"field": "t", "type": "quantitative", "scale": {"domain": [0, 1640], "nice": false}, "title": "Survival time (day)"},
     "y": {"field": "s", "type": "quantitative", "scale": {"domain": [0, 1.0536], "nice": false}, "title": "Cum Survival"},
     "shape": {"field": "key", "type": "nominal", "scale": {"domain": ["<74","75-84",">85","<74-censored","75-84-censored",">85-censored"], "range": ["M-1,0.32H0.05V-0.42H1.5V0","M-1,0.32H0.05V-0.42H1.5V0","M-1,0.32H0.05V-0.42H1.5V0","M-1,0H1.2M0.4,-0.75V0.75","M-1,0H1.2M0.4,-0.75V0.75","M-1,0H1.2M0.4,-0.75V0.75"]},
      "legend": {"legendX": 403, "legendY": 27.5, "rowPadding": 0, "clipHeight": 19}},
     "strokeDash": {"field": "key", "type": "nominal", "scale": {"domain": ["<74","75-84",">85","<74-censored","75-84-censored",">85-censored"], "range": [[2,2],[5,1.5],[1,0],[1,0],[1,0],[1,0]]},
      "legend": {"legendX": 403, "legendY": 27.5, "rowPadding": 0, "clipHeight": 19}}}},
   {"data": {"name": "tests"}, "transform": [{"filter": "datum.panel == 'Age'"}],
    "mark": {"type": "rect", "fill": "white", "stroke": "black", "strokeWidth": 1.5},
    "encoding": {
     "x": {"datum": 1780.4, "type": "quantitative", "scale": {"domain": [0, 1640], "nice": false}},
     "x2": {"datum": 2294.4},
     "y": {"datum": 0.6123, "type": "quantitative", "scale": {"domain": [0, 1.0536], "nice": false}},
     "y2": {"datum": 0.2526}}},
   {"data": {"name": "tests"}, "transform": [{"filter": "datum.panel == 'Age'"}],
    "mark": {"type": "text", "align": "left", "baseline": "alphabetic", "font": "Liberation Serif", "fontSize": 19.5, "fontWeight": "bold", "lineBreak": "\n", "lineHeight": 26, "color": "black"},
    "encoding": {
     "x": {"datum": 1827, "type": "quantitative", "scale": {"domain": [0, 1640], "nice": false}},
     "y": {"datum": 0.5408, "type": "quantitative", "scale": {"domain": [0, 1.0536], "nice": false}},
     "text": {"field": "test"}}},
   {"data": {"name": "tests"}, "transform": [{"filter": "datum.panel == 'Age'"}],
    "mark": {"type": "text", "align": "left", "baseline": "alphabetic", "font": "Liberation Serif", "fontSize": 19.5, "fontWeight": "bold", "color": "black"},
    "encoding": {
     "x": {"datum": 1827, "type": "quantitative", "scale": {"domain": [0, 1640], "nice": false}},
     "y": {"datum": 0.3546, "type": "quantitative", "scale": {"domain": [0, 1.0536], "nice": false}},
     "text": {"field": "p"}}}
  ]},
 {"width": 395, "height": 410,
  "title": {"text": "Charlson score", "dx": 12.5, "offset": 8},
  "resolve": {"scale": {"strokeDash": "independent", "shape": "independent"}},
  "layer": [
   {"data": {"name": "tests"}, "transform": [{"filter": "datum.panel == 'Charlson'"}],
    "mark": {"type": "rect", "fill": "#f0f0f0", "stroke": "#8a8a8a", "strokeWidth": 1.5},
    "encoding": {
     "x": {"datum": 0, "type": "quantitative", "scale": {"domain": [0, 1641], "nice": false}},
     "x2": {"datum": 1641},
     "y": {"datum": 0, "type": "quantitative", "scale": {"domain": [0, 1.0983], "nice": false}},
     "y2": {"datum": 1.0555}}},
   {"data": {"name": "km"}, "transform": [{"filter": "datum.panel == 'Charlson'"}],
    "mark": {"type": "line", "interpolate": "step-after", "stroke": "#2a2a2a", "strokeWidth": 1.2},
    "encoding": {
     "x": {"field": "t", "type": "quantitative", "scale": {"domain": [0, 1641], "nice": false}, "axis": {"values": [0,90,180,270,360,450,540,630,720,810,900,990,1080,1170,1260,1350,1440,1530,1620], "format": "d", "labelExpr": "datum.value % 180 == 0 ? datum.label : ''", "tickSize": 6, "labelPadding": 5, "title": "Survival time (days)", "titleY": 43, "titleBaseline": "middle"}},
     "y": {"field": "s", "type": "quantitative", "scale": {"domain": [0, 1.0983], "nice": false}, "axis": {"values": [0,0.2,0.4,0.6,0.8,1], "format": ".1f", "tickSize": 6, "labelPadding": 4, "title": "Cum Survival", "titleX": -43, "titleY": 211, "titleBaseline": "middle"}},
     "strokeDash": {"field": "group", "type": "nominal", "scale": {"domain": ["<3",">=3"], "range": [[2.5,2.5],[1,0]]}, "legend": null}}},
   {"data": {"name": "cens"}, "transform": [{"filter": "datum.panel == 'Charlson'"}],
    "mark": {"type": "point", "filled": false, "stroke": "#2a2a2a", "strokeWidth": 1, "size": 64, "opacity": 1},
    "encoding": {
     "x": {"field": "t", "type": "quantitative", "scale": {"domain": [0, 1641], "nice": false}, "title": "Survival time (days)"},
     "y": {"field": "s", "type": "quantitative", "scale": {"domain": [0, 1.0983], "nice": false}, "title": "Cum Survival"},
     "shape": {"field": "key", "type": "nominal", "scale": {"domain": ["<3",">=3","<3-censored",">=3-censored"], "range": ["M-1,0.32H0.05V-0.42H1.5V0","M-1,0.32H0.05V-0.42H1.5V0","M-1,0H1.2M0.4,-0.75V0.75","M-1,0H1.2M0.4,-0.75V0.75"]},
      "legend": {"legendX": 399, "legendY": 47.5, "rowPadding": 0, "clipHeight": 20}},
     "strokeDash": {"field": "key", "type": "nominal", "scale": {"domain": ["<3",">=3","<3-censored",">=3-censored"], "range": [[2,2],[1,0],[1,0],[1,0]]},
      "legend": {"legendX": 399, "legendY": 47.5, "rowPadding": 0, "clipHeight": 20}}}},
   {"data": {"name": "tests"}, "transform": [{"filter": "datum.panel == 'Charlson'"}],
    "mark": {"type": "rect", "fill": "white", "stroke": "black", "strokeWidth": 1.5},
    "encoding": {
     "x": {"datum": 1765.6, "type": "quantitative", "scale": {"domain": [0, 1641], "nice": false}},
     "x2": {"datum": 2268.3},
     "y": {"datum": 0.6429, "type": "quantitative", "scale": {"domain": [0, 1.0983], "nice": false}},
     "y2": {"datum": 0.2518}}},
   {"data": {"name": "tests"}, "transform": [{"filter": "datum.panel == 'Charlson'"}],
    "mark": {"type": "text", "align": "left", "baseline": "alphabetic", "font": "Liberation Serif", "fontSize": 19.5, "fontWeight": "bold", "lineBreak": "\n", "lineHeight": 26.5, "color": "black"},
    "encoding": {
     "x": {"datum": 1815.5, "type": "quantitative", "scale": {"domain": [0, 1641], "nice": false}},
     "y": {"datum": 0.5733, "type": "quantitative", "scale": {"domain": [0, 1.0983], "nice": false}},
     "text": {"field": "test"}}},
   {"data": {"name": "tests"}, "transform": [{"filter": "datum.panel == 'Charlson'"}],
    "mark": {"type": "text", "align": "left", "baseline": "alphabetic", "font": "Liberation Serif", "fontSize": 19.5, "fontWeight": "bold", "color": "black"},
    "encoding": {
     "x": {"datum": 1815.5, "type": "quantitative", "scale": {"domain": [0, 1641], "nice": false}},
     "y": {"datum": 0.3777, "type": "quantitative", "scale": {"domain": [0, 1.0983], "nice": false}},
     "text": {"field": "p"}}}
  ]},
 {"width": 380, "height": 387,
  "title": {"text": "Prior antibiotic treatment", "dx": -7, "offset": 23},
  "resolve": {"scale": {"strokeDash": "independent", "shape": "independent"}},
  "layer": [
   {"data": {"name": "tests"}, "transform": [{"filter": "datum.panel == 'Prior'"}],
    "mark": {"type": "rect", "fill": "#f0f0f0", "stroke": "#8a8a8a", "strokeWidth": 1.5},
    "encoding": {
     "x": {"datum": 0, "type": "quantitative", "scale": {"domain": [0, 1642], "nice": false}},
     "x2": {"datum": 1642},
     "y": {"datum": 0, "type": "quantitative", "scale": {"domain": [0, 1.0771], "nice": false}},
     "y2": {"datum": 1.053}}},
   {"data": {"name": "km"}, "transform": [{"filter": "datum.panel == 'Prior'"}],
    "mark": {"type": "line", "interpolate": "step-after", "stroke": "#2a2a2a", "strokeWidth": 1.2},
    "encoding": {
     "x": {"field": "t", "type": "quantitative", "scale": {"domain": [0, 1642], "nice": false}, "axis": {"values": [0,90,180,270,360,450,540,630,720,810,900,990,1080,1170,1260,1350,1440,1530,1620], "format": "d", "labelExpr": "datum.value % 180 == 0 ? datum.label : ''", "tickSize": 6, "labelPadding": 5, "title": "Survival time (days)", "titleY": 42, "titleBaseline": "middle"}},
     "y": {"field": "s", "type": "quantitative", "scale": {"domain": [0, 1.0771], "nice": false}, "axis": {"values": [0,0.2,0.4,0.6,0.8,1], "format": ".1f", "tickSize": 6, "labelPadding": 4, "title": "Cum Survival", "titleX": -42.5, "titleY": 199, "titleBaseline": "middle"}},
     "strokeDash": {"field": "group", "type": "nominal", "scale": {"domain": ["No","Yes"], "range": [[2.5,2.5],[1,0]]}, "legend": null}}},
   {"data": {"name": "cens"}, "transform": [{"filter": "datum.panel == 'Prior'"}],
    "mark": {"type": "point", "filled": false, "stroke": "#2a2a2a", "strokeWidth": 1, "size": 64, "opacity": 1},
    "encoding": {
     "x": {"field": "t", "type": "quantitative", "scale": {"domain": [0, 1642], "nice": false}, "title": "Survival time (days)"},
     "y": {"field": "s", "type": "quantitative", "scale": {"domain": [0, 1.0771], "nice": false}, "title": "Cum Survival"},
     "shape": {"field": "key", "type": "nominal", "scale": {"domain": ["No","Yes","No-censored","Yes-censored"], "range": ["M-1,0.32H0.05V-0.42H1.5V0","M-1,0.32H0.05V-0.42H1.5V0","M-1,0H1.2M0.4,-0.75V0.75","M-1,0H1.2M0.4,-0.75V0.75"]},
      "legend": {"legendX": 381, "legendY": 37.5, "rowPadding": 0, "clipHeight": 19.3}},
     "strokeDash": {"field": "key", "type": "nominal", "scale": {"domain": ["No","Yes","No-censored","Yes-censored"], "range": [[2,2],[1,0],[1,0],[1,0]]},
      "legend": {"legendX": 381, "legendY": 37.5, "rowPadding": 0, "clipHeight": 19.3}}}},
   {"data": {"name": "tests"}, "transform": [{"filter": "datum.panel == 'Prior'"}],
    "mark": {"type": "rect", "fill": "white", "stroke": "black", "strokeWidth": 1.5},
    "encoding": {
     "x": {"datum": 1890.5, "type": "quantitative", "scale": {"domain": [0, 1642], "nice": false}},
     "x2": {"datum": 2436.2},
     "y": {"datum": 0.6735, "type": "quantitative", "scale": {"domain": [0, 1.0771], "nice": false}},
     "y2": {"datum": 0.2783}}},
   {"data": {"name": "tests"}, "transform": [{"filter": "datum.panel == 'Prior'"}],
    "mark": {"type": "text", "align": "left", "baseline": "alphabetic", "font": "Liberation Serif", "fontSize": 19.5, "fontWeight": "bold", "lineBreak": "\n", "lineHeight": 26.5, "color": "black"},
    "encoding": {
     "x": {"datum": 1940.1, "type": "quantitative", "scale": {"domain": [0, 1642], "nice": false}},
     "y": {"datum": 0.5956, "type": "quantitative", "scale": {"domain": [0, 1.0771], "nice": false}},
     "text": {"field": "test"}}},
   {"data": {"name": "tests"}, "transform": [{"filter": "datum.panel == 'Prior'"}],
    "mark": {"type": "text", "align": "left", "baseline": "alphabetic", "font": "Liberation Serif", "fontSize": 19.5, "fontWeight": "bold", "color": "black"},
    "encoding": {
     "x": {"datum": 1940.1, "type": "quantitative", "scale": {"domain": [0, 1642], "nice": false}},
     "y": {"datum": 0.3952, "type": "quantitative", "scale": {"domain": [0, 1.0771], "nice": false}},
     "text": {"field": "p"}}}
  ]},
 {"width": 392, "height": 387,
  "title": {"text": "SOFA score", "dx": 14, "offset": 22},
  "resolve": {"scale": {"strokeDash": "independent", "shape": "independent"}},
  "layer": [
   {"data": {"name": "tests"}, "transform": [{"filter": "datum.panel == 'SOFA'"}],
    "mark": {"type": "rect", "fill": "#f0f0f0", "stroke": "#8a8a8a", "strokeWidth": 1.5},
    "encoding": {
     "x": {"datum": 0, "type": "quantitative", "scale": {"domain": [-25.46, 1638], "nice": false, "zero": false}},
     "x2": {"datum": 1638},
     "y": {"datum": 0, "type": "quantitative", "scale": {"domain": [0, 1.0582], "nice": false}},
     "y2": {"datum": 1.0582}}},
   {"data": {"name": "km"}, "transform": [{"filter": "datum.panel == 'SOFA'"}],
    "mark": {"type": "line", "interpolate": "step-after", "stroke": "#2a2a2a", "strokeWidth": 1.2},
    "encoding": {
     "x": {"field": "t", "type": "quantitative", "scale": {"domain": [-25.46, 1638], "nice": false, "zero": false}, "axis": {"values": [0,90,180,270,360,450,540,630,720,810,900,990,1080,1170,1260,1350,1440,1530,1620], "format": "d", "labelExpr": "datum.value % 180 == 0 ? datum.label : ''", "tickSize": 6, "labelPadding": 5, "title": "Survival time (days)", "titleX": 201, "titleY": 42, "titleBaseline": "middle"}},
     "y": {"field": "s", "type": "quantitative", "scale": {"domain": [0, 1.0582], "nice": false}, "axis": {"offset": -6, "values": [0,0.2,0.4,0.6,0.8,1], "format": ".1f", "tickSize": 6, "labelPadding": 4, "title": "Cum Survival", "titleX": -41, "titleY": 194, "titleBaseline": "middle"}},
     "strokeDash": {"field": "group", "type": "nominal", "scale": {"domain": ["=<3",">3"], "range": [[2.5,2.5],[1,0]]}, "legend": null}}},
   {"data": {"name": "cens"}, "transform": [{"filter": "datum.panel == 'SOFA'"}],
    "mark": {"type": "point", "filled": false, "stroke": "#2a2a2a", "strokeWidth": 1, "size": 64, "opacity": 1},
    "encoding": {
     "x": {"field": "t", "type": "quantitative", "scale": {"domain": [-25.46, 1638], "nice": false, "zero": false}, "title": "Survival time (days)"},
     "y": {"field": "s", "type": "quantitative", "scale": {"domain": [0, 1.0582], "nice": false}, "title": "Cum Survival"},
     "shape": {"field": "key", "type": "nominal", "scale": {"domain": ["=<3",">3","=<3-censored",">3-censored"], "range": ["M-1,0.32H0.05V-0.42H1.5V0","M-1,0.32H0.05V-0.42H1.5V0","M-1,0H1.2M0.4,-0.75V0.75","M-1,0H1.2M0.4,-0.75V0.75"]},
      "legend": {"legendX": 394.5, "legendY": 31.5, "rowPadding": 0, "clipHeight": 19.3}},
     "strokeDash": {"field": "key", "type": "nominal", "scale": {"domain": ["=<3",">3","=<3-censored",">3-censored"], "range": [[2,2],[1,0],[1,0],[1,0]]},
      "legend": {"legendX": 394.5, "legendY": 31.5, "rowPadding": 0, "clipHeight": 19.3}}}},
   {"data": {"name": "tests"}, "transform": [{"filter": "datum.panel == 'SOFA'"}],
    "mark": {"type": "rect", "fill": "white", "stroke": "black", "strokeWidth": 1.5},
    "encoding": {
     "x": {"datum": 1803.5, "type": "quantitative", "scale": {"domain": [-25.46, 1638], "nice": false, "zero": false}},
     "x2": {"datum": 2291.5},
     "y": {"datum": 0.659, "type": "quantitative", "scale": {"domain": [0, 1.0582], "nice": false}},
     "y2": {"datum": 0.2707}}},
   {"data": {"name": "tests"}, "transform": [{"filter": "datum.panel == 'SOFA'"}],
    "mark": {"type": "text", "align": "left", "baseline": "alphabetic", "font": "Liberation Serif", "fontSize": 19.5, "fontWeight": "bold", "lineBreak": "\n", "lineHeight": 26.5, "color": "black"},
    "encoding": {
     "x": {"datum": 1858.6, "type": "quantitative", "scale": {"domain": [-25.46, 1638], "nice": false, "zero": false}},
     "y": {"datum": 0.5852, "type": "quantitative", "scale": {"domain": [0, 1.0582], "nice": false}},
     "text": {"field": "test"}}},
   {"data": {"name": "tests"}, "transform": [{"filter": "datum.panel == 'SOFA'"}],
    "mark": {"type": "text", "align": "left", "baseline": "alphabetic", "font": "Liberation Serif", "fontSize": 19.5, "fontWeight": "bold", "color": "black"},
    "encoding": {
     "x": {"datum": 1858.6, "type": "quantitative", "scale": {"domain": [-25.46, 1638], "nice": false, "zero": false}},
     "y": {"datum": 0.3856, "type": "quantitative", "scale": {"domain": [0, 1.0582], "nice": false}},
     "text": {"field": "p"}}}
  ]}
]
}
